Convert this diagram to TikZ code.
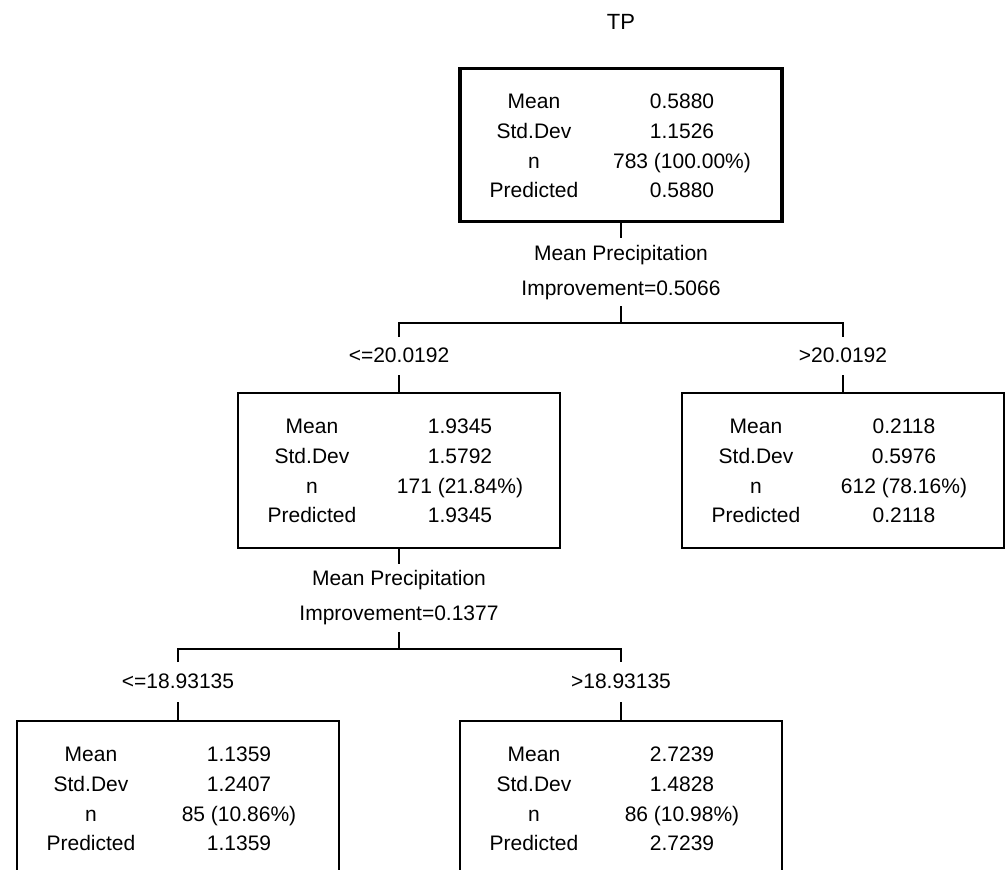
\documentclass[tikz,border=0pt]{standalone}
\usepackage{fontspec}
\setmainfont{Liberation Sans}
\begin{document}
\begin{tikzpicture}[x=1pt,y=-1pt,
  txt/.style={inner sep=0pt,font=\fontsize{21}{25}\selectfont},
  statbox/.style={draw,line width=1.6pt,minimum width=322,minimum height=155,inner sep=0pt,anchor=north},
  rootbox/.style={statbox,line width=3.4pt,minimum height=153},
  link/.style={draw,line width=1.6pt}]
\useasboundingbox (0,0) rectangle (1005,870);
\clip (0,0) rectangle (1005,870);

% one node of the tree: the four statistic rows inside its frame
\newcommand\statrows[5]{%
  \node[txt,anchor=base] (#1-l1) at ([shift={(-87,41)}]#1.north) {Mean};
  \node[txt,anchor=base] (#1-v1) at ([shift={(61,41)}]#1.north) {#2};
  \node[txt,anchor=base] (#1-l2) at ([shift={(-87,71)}]#1.north) {Std.Dev};
  \node[txt,anchor=base] (#1-v2) at ([shift={(61,71)}]#1.north) {#3};
  \node[txt,anchor=base] (#1-l3) at ([shift={(-87,101)}]#1.north) {n};
  \node[txt,anchor=base] (#1-v3) at ([shift={(61,101)}]#1.north) {#4};
  \node[txt,anchor=base] (#1-l4) at ([shift={(-87,130)}]#1.north) {Predicted};
  \node[txt,anchor=base] (#1-v4) at ([shift={(61,130)}]#1.north) {#5};
}

\node[txt,font=\fontsize{22}{26}\selectfont] (title) at (621,22) {TP};

% root
\node[rootbox] (root) at (621,67) {};
\statrows{root}{0.5880}{1.1526}{783 (100.00\%)}{0.5880}

% first split
\coordinate (a1) at (621,238);
\node[txt] (q1a) at (621,255) {Mean Precipitation};
\node[txt] (q1b) at (621,290) {Improvement=0.5066};
\coordinate (a2) at (621,306);
\coordinate (j1) at (621,323);
\coordinate (l1) at (399,337);
\coordinate (r1) at (843,337);
\node[txt] (c1l) at (399,355) {<=20.0192};
\node[txt] (c1r) at (843,355) {>20.0192};
\coordinate (l2) at (399,375);
\coordinate (r2) at (843,375);

\node[statbox] (left) at (399,392) {};
\statrows{left}{1.9345}{1.5792}{171 (21.84\%)}{1.9345}
\node[statbox] (right) at (843,392) {};
\statrows{right}{0.2118}{0.5976}{612 (78.16\%)}{0.2118}

\draw[link] (root.south) -- (a1);
\draw[link] (a2) -- (j1);
\draw[link] (l1) |- (j1) -| (r1);
\draw[link] (l2) -- (left.north);
\draw[link] (r2) -- (right.north);

% second split
\coordinate (b1) at (399,564);
\node[txt] (q2a) at (399,580) {Mean Precipitation};
\node[txt] (q2b) at (399,615) {Improvement=0.1377};
\coordinate (b2) at (399,632);
\coordinate (j2) at (399,649);
\coordinate (l3) at (178,662);
\coordinate (r3) at (621,662);
\node[txt] (c2l) at (178,681) {<=18.93135};
\node[txt] (c2r) at (621,681) {>18.93135};
\coordinate (l4) at (178,702);
\coordinate (r4) at (621,702);

\node[statbox] (ll) at (178,720) {};
\statrows{ll}{1.1359}{1.2407}{85 (10.86\%)}{1.1359}
\node[statbox] (lr) at (621,720) {};
\statrows{lr}{2.7239}{1.4828}{86 (10.98\%)}{2.7239}

\draw[link] (left.south) -- (b1);
\draw[link] (b2) -- (j2);
\draw[link] (l3) |- (j2) -| (r3);
\draw[link] (l4) -- (ll.north);
\draw[link] (r4) -- (lr.north);
\end{tikzpicture}
\end{document}
